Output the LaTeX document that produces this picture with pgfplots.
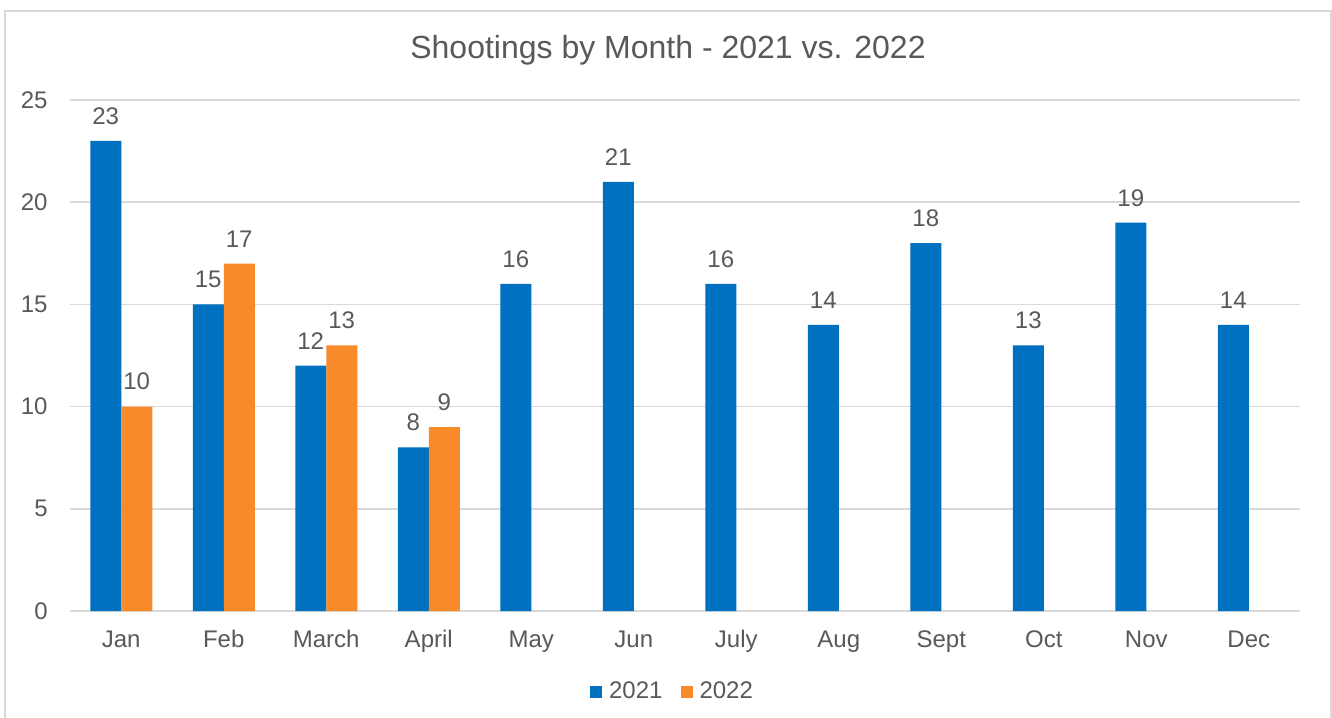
\documentclass[border=0pt]{standalone}
\usepackage{fontspec}
\setmainfont{Liberation Sans}
\usepackage{pgfplots}
\pgfplotsset{compat=1.18}
\definecolor{cblue}{HTML}{0070C0}
\definecolor{corange}{HTML}{F98A2A}
\definecolor{ctext}{HTML}{595959}
\definecolor{cgrid}{HTML}{D9D9D9}
\begin{document}
\begin{tikzpicture}
\useasboundingbox (0pt,0pt) rectangle (666pt,358.5pt);
\fill[white] (0pt,0pt) rectangle (666pt,358.5pt);
\begin{scope}
\clip (0pt,0pt) rectangle (666pt,358.5pt);
\draw[cgrid, line width=0.75pt] (2.5pt,-5pt) rectangle (665.5pt,353pt);
\end{scope}
\node[text=ctext, font=\fontsize{16}{19}\selectfont] at (334pt,333.5pt) {Shootings by Month - 2021 vs. 2022};
\begin{axis}[
  at={(35pt,53pt)}, anchor=south west,
  scale only axis, width=615pt, height=255.5pt,
  xmin=-0.5, xmax=11.5, ymin=0, ymax=25,
  ytick={0,5,...,25},
  xtick={0,...,11},
  xticklabels={Jan,Feb,March,April,May,Jun,July,Aug,Sept,Oct,Nov,Dec},
  axis line style={draw=none},
  major tick length=0pt,
  ymajorgrids, grid style={cgrid, line width=0.75pt},
  /pgf/number format/assume math mode=true,
  tick label style={text=ctext, font=\fontsize{12}{14}\selectfont, inner sep=0pt},
  yticklabel style={anchor=east, xshift=-11pt},
  xticklabel style={anchor=north, yshift=-9.4pt, text height=8.6pt},
  ybar, bar width=15.5pt,
  nodes near coords,
  nodes near coords style={text=ctext, font=\fontsize{12}{14}\selectfont, anchor=south, inner sep=0pt, yshift=8pt, /pgf/number format/assume math mode=true},
  legend columns=2,
  legend style={at={(0.4919,-0.1585)}, anchor=center, draw=none, fill=none,
    font=\fontsize{12}{14}\selectfont, text=ctext,
    /tikz/every even column/.append style={column sep=5.5pt},
    nodes={inner xsep=3.5pt, inner ysep=0pt}},
  legend image code/.code={\fill[#1] (0pt,-3pt) rectangle (6pt,3pt);},
]
\addplot[draw=none, fill=cblue, bar shift=-7.75pt] coordinates {
(0,23) (1,15) (2,12) (3,8) (4,16) (5,21) (6,16) (7,14) (8,18) (9,13) (10,19) (11,14)};
\addplot[draw=none, fill=corange, bar shift=7.75pt] coordinates {
(0,10) (1,17) (2,13) (3,9)};
\legend{2021,2022}
\end{axis}
\end{tikzpicture}
\end{document}
